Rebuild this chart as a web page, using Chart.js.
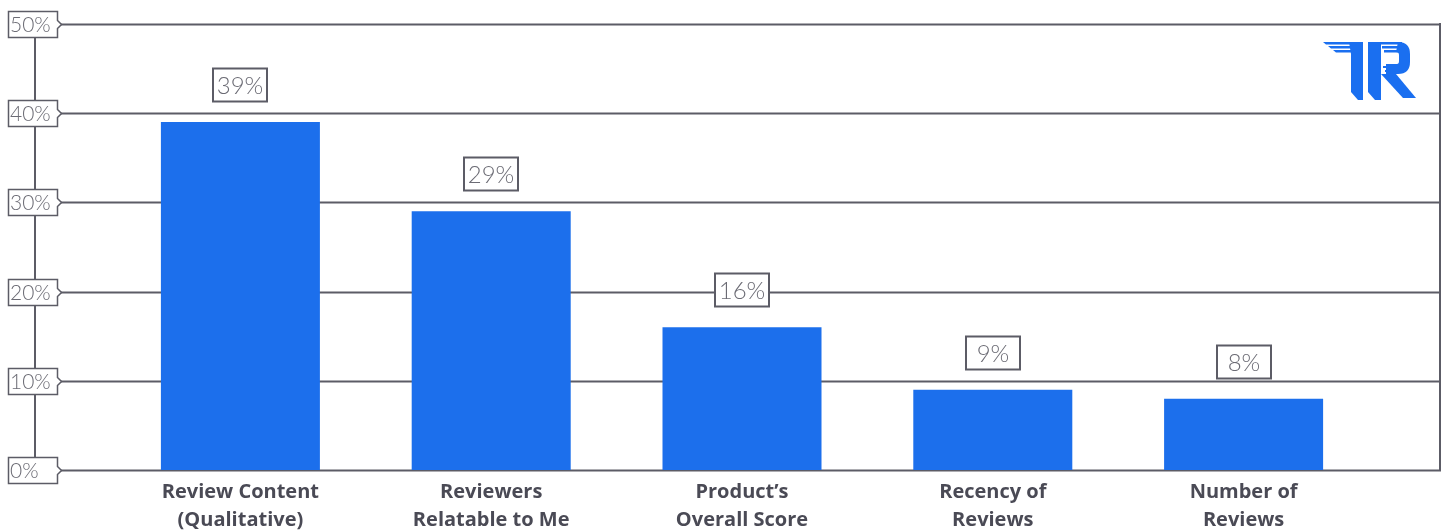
<!DOCTYPE html>
<html>
<head>
<meta charset="utf-8">
<script src="https://cdn.jsdelivr.net/npm/chart.js@4.4.1/dist/chart.umd.min.js"></script>
<style>
  html, body { margin: 0; padding: 0; background: #ffffff; }
  #wrap { width: 1445px; height: 531px; }
</style>
</head>
<body>
<div id="wrap"><canvas id="chart" width="1445" height="531"></canvas></div>
<script>
// Survey answers: what matters most when reading reviews
const categories = [
  ['Review Content', '(Qualitative)'],
  ['Reviewers', 'Relatable to Me'],
  ['Product\u2019s', 'Overall Score'],
  ['Recency of', 'Reviews'],
  ['Number of', 'Reviews']
];
const shares = [39, 29, 16, 9, 8];
const yTickValues = [0, 10, 20, 30, 40, 50];
const yTickLabels = ['0%', '10%', '20%', '30%', '40%', '50%'];

const BLUE = '#1c6fec';
const LINE = '#5c5c66';
const TEXT_LIGHT = '#6b6b74';
const TEXT_DARK = '#4a4a55';

// Horizontal rules, side rules and the boxed percentage ticks
const frame = {
  id: 'frame',
  beforeDatasetsDraw(chart) {
    const ctx = chart.ctx;
    const y = chart.scales.y;
    const top = y.getPixelForValue(50);
    const bottom = y.getPixelForValue(0);
    ctx.save();
    ctx.strokeStyle = LINE;
    ctx.lineWidth = 2;
    // left axis spine and right border
    ctx.beginPath();
    ctx.moveTo(35, top);
    ctx.lineTo(35, bottom);
    ctx.moveTo(1440, top - 1);
    ctx.lineTo(1440, bottom + 1);
    ctx.stroke();
    yTickValues.forEach(v => {
      const py = Math.round(y.getPixelForValue(v)) + 0.5;
      ctx.beginPath();
      ctx.moveTo(60, py);
      ctx.lineTo(1441, py);
      ctx.stroke();
    });
    // tick boxes with a small pointer on the right side
    ctx.lineWidth = 1.5;
    yTickValues.forEach((v, i) => {
      const cy = Math.round(y.getPixelForValue(v)) + 0.5;
      const x0 = 8.5, x1 = 57.5, h = 26;
      const t = cy - h / 2, b = cy + h / 2;
      ctx.beginPath();
      ctx.moveTo(x0, t);
      ctx.lineTo(x1, t);
      ctx.lineTo(x1, cy - 4);
      ctx.lineTo(x1 + 4, cy);
      ctx.lineTo(x1, cy + 4);
      ctx.lineTo(x1, b);
      ctx.lineTo(x0, b);
      ctx.closePath();
      ctx.fillStyle = '#ffffff';
      ctx.fill();
      ctx.strokeStyle = LINE;
      ctx.stroke();
      ctx.fillStyle = TEXT_LIGHT;
      ctx.font = '300 21px Lato, "Open Sans", sans-serif';
      ctx.textAlign = 'left';
      ctx.textBaseline = 'middle';
      ctx.fillText(yTickLabels[i], 10, cy + 1);
    });
    ctx.restore();
  }
};

// Boxed value labels above each bar
const valueBoxes = {
  id: 'valueBoxes',
  afterDatasetsDraw(chart) {
    const ctx = chart.ctx;
    const meta = chart.getDatasetMeta(0);
    ctx.save();
    ctx.font = '300 24px Lato, "Open Sans", sans-serif';
    ctx.textAlign = 'center';
    ctx.textBaseline = 'middle';
    meta.data.forEach((bar, i) => {
      const cx = Math.round(bar.x);
      const cy = Math.round(bar.y - 37);
      const w = 54, h = 33;
      ctx.fillStyle = '#ffffff';
      ctx.fillRect(cx - w / 2, cy - h / 2, w, h);
      ctx.strokeStyle = LINE;
      ctx.lineWidth = 2;
      ctx.strokeRect(cx - w / 2, cy - h / 2, w, h);
      ctx.fillStyle = TEXT_LIGHT;
      ctx.fillText(shares[i] + '%', cx, cy + 1);
    });
    ctx.restore();
  }
};

// Brand mark in the upper right corner
const brandMark = {
  id: 'brandMark',
  afterDraw(chart) {
    const ctx = chart.ctx;
    ctx.save();
    ctx.fillStyle = '#1a6ff0';
    // striped top bars of the T
    const stripes = [[42, 1323], [46, 1328], [50, 1333]];
    stripes.forEach(([sy, sx]) => {
      ctx.beginPath();
      ctx.moveTo(sx, sy);
      ctx.lineTo(1352, sy);
      ctx.lineTo(1353, sy + 2.5);
      ctx.lineTo(sx + 3, sy + 2.5);
      ctx.closePath();
      ctx.fill();
    });
    // T stem
    ctx.beginPath();
    ctx.moveTo(1349, 42);
    ctx.lineTo(1363, 42);
    ctx.lineTo(1363, 100);
    ctx.lineTo(1358, 100);
    ctx.lineTo(1351, 92);
    ctx.lineTo(1351, 54);
    ctx.closePath();
    ctx.fill();
    // R stem
    ctx.beginPath();
    ctx.moveTo(1368, 42);
    ctx.lineTo(1381, 42);
    ctx.lineTo(1381, 100);
    ctx.lineTo(1375, 100);
    ctx.lineTo(1368, 92);
    ctx.closePath();
    ctx.fill();
    // R bowl (striped top)
    [[42, 1380], [46, 1382], [50, 1384]].forEach(([sy, sx]) => {
      ctx.fillRect(sx, sy, 22, 2.5);
    });
    ctx.beginPath();
    ctx.moveTo(1398, 42);
    ctx.quadraticCurveTo(1410, 42, 1410, 54);
    ctx.lineTo(1410, 62);
    ctx.quadraticCurveTo(1410, 74, 1398, 74);
    ctx.lineTo(1386, 74);
    ctx.lineTo(1386, 64);
    ctx.lineTo(1397, 64);
    ctx.quadraticCurveTo(1399, 64, 1399, 61);
    ctx.lineTo(1399, 55);
    ctx.quadraticCurveTo(1399, 52, 1396, 52);
    ctx.lineTo(1398, 42);
    ctx.closePath();
    ctx.fill();
    // inner bars of the R
    ctx.fillRect(1383, 66, 12, 2);
    ctx.fillRect(1385, 70, 14, 2);
    // R leg
    ctx.beginPath();
    ctx.moveTo(1381, 74);
    ctx.lineTo(1396, 74);
    ctx.lineTo(1416, 98);
    ctx.lineTo(1403, 98);
    ctx.closePath();
    ctx.fill();
    ctx.restore();
  }
};

new Chart(document.getElementById('chart'), {
  type: 'bar',
  data: {
    labels: categories,
    datasets: [{
      data: shares,
      backgroundColor: BLUE,
      borderWidth: 0,
      barPercentage: 0.634,
      categoryPercentage: 1.0
    }]
  },
  options: {
    responsive: false,
    animation: false,
    devicePixelRatio: 1,
    layout: { padding: { left: 115, right: 76, top: 24, bottom: 0 } },
    plugins: {
      legend: { display: false },
      tooltip: { enabled: false },
      title: { display: false }
    },
    scales: {
      x: {
        grid: { display: false, drawTicks: false },
        border: { display: false },
        ticks: {
          color: TEXT_DARK,
          padding: 8,
          maxRotation: 0,
          autoSkip: false,
          font: { family: '"Open Sans", Lato, sans-serif', weight: 'bold', size: 20, lineHeight: 1.4 }
        },
        afterFit(scale) { scale.height = 61; }
      },
      y: {
        display: false,
        min: 0,
        max: 50,
        ticks: { stepSize: 10 }
      }
    }
  },
  plugins: [frame, valueBoxes, brandMark]
});
</script>
</body>
</html>
